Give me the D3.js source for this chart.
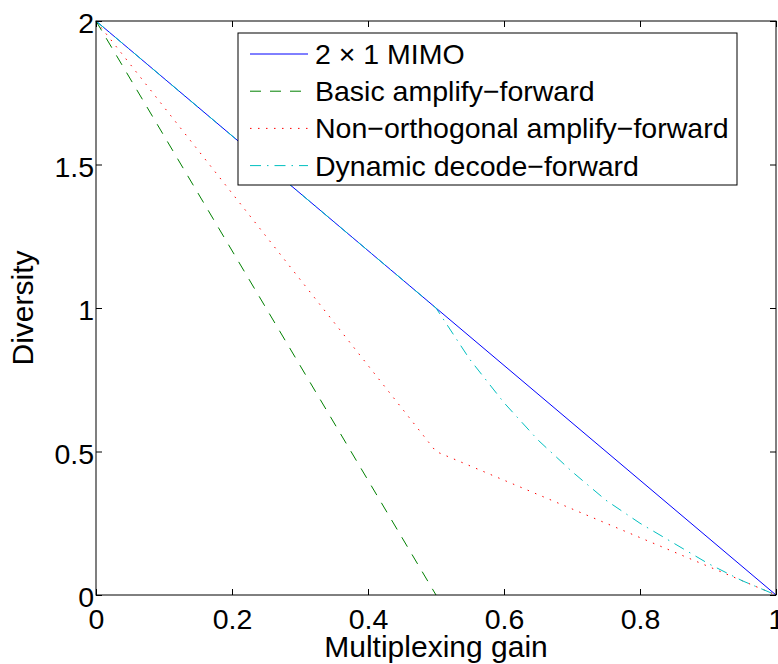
<!DOCTYPE html>
<html>
<head>
<meta charset="utf-8">
<script src="https://cdn.jsdelivr.net/npm/d3@7"></script>
<style>
  body { margin: 0; background: #fff; }
  text { font-family: "Liberation Sans", Arial, Helvetica, sans-serif; }
</style>
</head>
<body>
<div id="chart"></div>
<script>
// values
const xTicks = [0, 0.2, 0.4, 0.6, 0.8, 1];
const xTickLabels = ["0", "0.2", "0.4", "0.6", "0.8", "1"];
const yTicks = [0, 0.5, 1, 1.5, 2];
const yTickLabels = ["0", "0.5", "1", "1.5", "2"];

const mimoGain = [0, 1];
const mimoDiv = [2, 0];
const basicAfGain = [0, 0.5];
const basicAfDiv = [2, 0];
const nafGain = [0, 0.5, 1];
const nafDiv = [2, 0.5, 0];
const ddfGain = [0, 0.5, 0.55, 0.6, 0.65, 0.7, 0.75, 0.8, 0.85, 0.9, 0.95, 1];
const ddfDiv = [2, 1, 0.82, 0.67, 0.54, 0.43, 0.33, 0.25, 0.18, 0.11, 0.05, 0];

const seriesNames = ["2 \u00d7 1 MIMO", "Basic amplify\u2212forward", "Non\u2212orthogonal amplify\u2212forward", "Dynamic decode\u2212forward"];

(function () {
  const W = 778, H = 664;
  const margin = { top: 21, right: 2, bottom: 69, left: 96 };
  const width = W - margin.left - margin.right;
  const height = H - margin.top - margin.bottom;
  const fs = 28.5;   // ticks + legend
  const labelFs = 30; // axis titles

  const svg = d3.select("#chart")
    .append("svg")
    .attr("width", W)
    .attr("height", H)
    .append("g")
    .attr("transform", "translate(" + margin.left + "," + margin.top + ")");

  const x = d3.scaleLinear().domain([0, 1]).range([0, width]);
  const y = d3.scaleLinear().domain([0, 2]).range([height, 0]);

  const zip = (a, b) => a.map((v, i) => [v, b[i]]);
  const series = [
    { name: seriesNames[0], pts: zip(mimoGain, mimoDiv), color: "#0000ff", dash: null },
    { name: seriesNames[1], pts: zip(basicAfGain, basicAfDiv), color: "#008000", dash: "11,9" },
    { name: seriesNames[2], pts: zip(nafGain, nafDiv), color: "#ff0000", dash: "1.5,6.5" },
    { name: seriesNames[3], pts: zip(ddfGain, ddfDiv), color: "#00bfbf", dash: "11,6,1.5,6" }
  ];

  const line = d3.line()
    .x(d => x(d[0]))
    .y(d => y(d[1]));

  series.forEach(s => {
    svg.append("path")
      .datum(s.pts)
      .attr("d", line)
      .attr("fill", "none")
      .attr("stroke", s.color)
      .attr("stroke-width", 1)
      .attr("stroke-dasharray", s.dash);
  });

  // axes with inward ticks on all four sides
  const styleAxis = g => {
    g.select(".domain").remove();
    g.selectAll(".tick line").attr("stroke", "#000");
    g.selectAll("text").attr("font-size", fs).attr("fill", "#000")
      .attr("font-family", '"Liberation Sans", Arial, sans-serif');
  };

  svg.append("g")
    .attr("transform", "translate(0," + height + ")")
    .call(d3.axisBottom(x).tickValues(xTicks).tickFormat((d, i) => xTickLabels[i]).tickSize(-6))
    .call(styleAxis)
    .call(g => g.selectAll("text").attr("y", 34).attr("dy", null));

  svg.append("g")
    .call(d3.axisTop(x).tickValues(xTicks).tickFormat("").tickSize(-6))
    .call(styleAxis);

  svg.append("g")
    .call(d3.axisLeft(y).tickValues(yTicks).tickFormat((d, i) => yTickLabels[i]).tickSize(-6))
    .call(styleAxis)
    .call(g => g.selectAll("text").attr("x", -2).attr("dy", null).attr("y", 11.5));

  svg.append("g")
    .attr("transform", "translate(" + width + ",0)")
    .call(d3.axisRight(y).tickValues(yTicks).tickFormat("").tickSize(-6))
    .call(styleAxis);

  svg.append("rect")
    .attr("x", 0).attr("y", 0)
    .attr("width", width).attr("height", height)
    .attr("fill", "none")
    .attr("stroke", "#000")
    .attr("stroke-width", 1);

  // axis labels
  svg.append("text")
    .attr("x", width / 2)
    .attr("y", height + 62)
    .attr("text-anchor", "middle")
    .attr("font-size", labelFs)
    .text("Multiplexing gain");

  svg.append("text")
    .attr("transform", "translate(" + (33 - margin.left) + "," + (height / 2) + ") rotate(-90)")
    .attr("text-anchor", "middle")
    .attr("font-size", labelFs)
    .text("Diversity");

  // legend
  const lx = 238 - margin.left, ly = 33 - margin.top;
  const legend = svg.append("g").attr("transform", "translate(" + lx + "," + ly + ")");
  legend.append("rect")
    .attr("width", 499).attr("height", 152)
    .attr("fill", "#fff")
    .attr("stroke", "#000")
    .attr("stroke-width", 1);

  series.forEach((s, i) => {
    const cy = 21 + i * 37.2;
    legend.append("line")
      .attr("x1", 12).attr("x2", 70)
      .attr("y1", cy).attr("y2", cy)
      .attr("stroke", s.color)
      .attr("stroke-width", 1)
      .attr("stroke-dasharray", s.dash);
    legend.append("text")
      .attr("x", 77)
      .attr("y", cy + 10)
      .attr("font-size", fs)
      .text(s.name);
  });
})();
</script>
</body>
</html>
